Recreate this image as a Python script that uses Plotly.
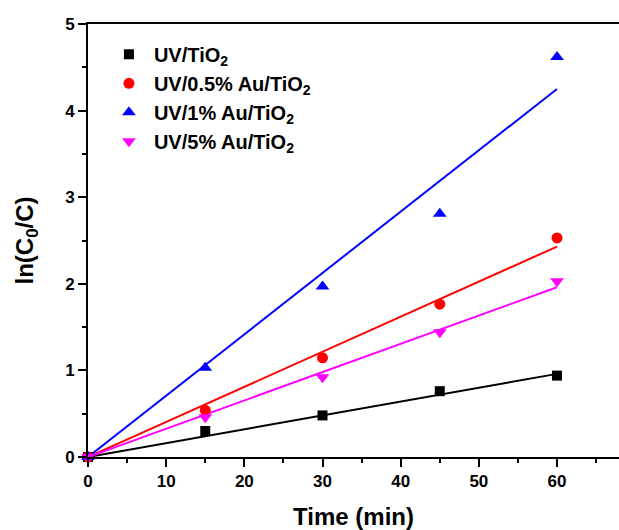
import plotly.graph_objects as go

time = [0, 15, 30, 45, 60]
uv_tio2 = [0, 0.30, 0.48, 0.76, 0.94]
uv_05au = [0, 0.54, 1.145, 1.765, 2.53]
uv_1au = [0, 1.03, 1.97, 2.81, 4.62]
uv_5au = [0, 0.46, 0.92, 1.44, 2.03]

fit_x = [0, 60]
fit_tio2 = [0, 0.96]
fit_05au = [0, 2.43]
fit_1au = [0, 4.25]
fit_5au = [0, 1.96]

names = ["UV/TiO<sub>2</sub>", "UV/0.5% Au/TiO<sub>2</sub>",
         "UV/1% Au/TiO<sub>2</sub>", "UV/5% Au/TiO<sub>2</sub>"]
colors = ["#000000", "#ff0000", "#0000ff", "#ff00ff"]
symbols = ["square", "circle", "triangle-up", "triangle-down"]
sizes = [10, 11, 12, 12]

fig = go.Figure()
for fy, c in zip([fit_tio2, fit_05au, fit_1au, fit_5au], colors):
    fig.add_trace(go.Scatter(x=fit_x, y=fy, mode="lines",
                             line=dict(color=c, width=2),
                             showlegend=False, hoverinfo="skip"))
for ys, n, c, s, sz in zip([uv_tio2, uv_05au, uv_1au, uv_5au], names, colors, symbols, sizes):
    fig.add_trace(go.Scatter(x=time, y=ys, mode="markers", name=n,
                             marker=dict(color=c, symbol=s, size=sz, line=dict(width=0)),
                             cliponaxis=False))

font_family = "Liberation Sans, Arial, sans-serif"
fig.update_layout(
    width=619, height=530,
    margin=dict(l=88, r=0, t=24, b=73),
    paper_bgcolor="white", plot_bgcolor="white",
    font=dict(family=font_family, color="black", size=17),
    legend=dict(x=0.03, y=0.975, xanchor="left", yanchor="top",
                font=dict(family=font_family, size=20, color="black", weight="bold"),
                bgcolor="rgba(0,0,0,0)", tracegroupgap=0, itemwidth=40),
    xaxis=dict(range=[0, 531/7.817], showline=True, linewidth=2, linecolor="black",
               mirror=True, showgrid=False, zeroline=False, automargin=False,
               ticks="outside", ticklen=8, tickwidth=2, tickcolor="black",
               tickvals=[0, 10, 20, 30, 40, 50, 60],
               minor=dict(ticks="outside", ticklen=4, tickwidth=2, tickcolor="black", dtick=5),
               tickfont=dict(size=17, weight="bold"),
               title=dict(text="Time (min)", font=dict(size=24, weight="bold"), standoff=18)),
    yaxis=dict(range=[0, 5], showline=True, linewidth=2, linecolor="black",
               mirror=False, showgrid=False, zeroline=False, automargin=False,
               ticks="outside", ticklen=8, tickwidth=2, tickcolor="black",
               dtick=1,
               minor=dict(ticks="outside", ticklen=4, tickwidth=2, tickcolor="black", dtick=0.5),
               tickfont=dict(size=17, weight="bold"),
               title=dict(text="ln(C<sub>0</sub>/C)", font=dict(size=24, weight="bold"), standoff=25)),
)

fig.write_html(
    "out.html",
    config={"displayModeBar": False},
    post_script=("document.documentElement.style.margin='0';"
                 "document.body.style.margin='0';"
                 "document.documentElement.style.overflow='hidden';"
                 "document.body.style.overflow='hidden';"),
)
